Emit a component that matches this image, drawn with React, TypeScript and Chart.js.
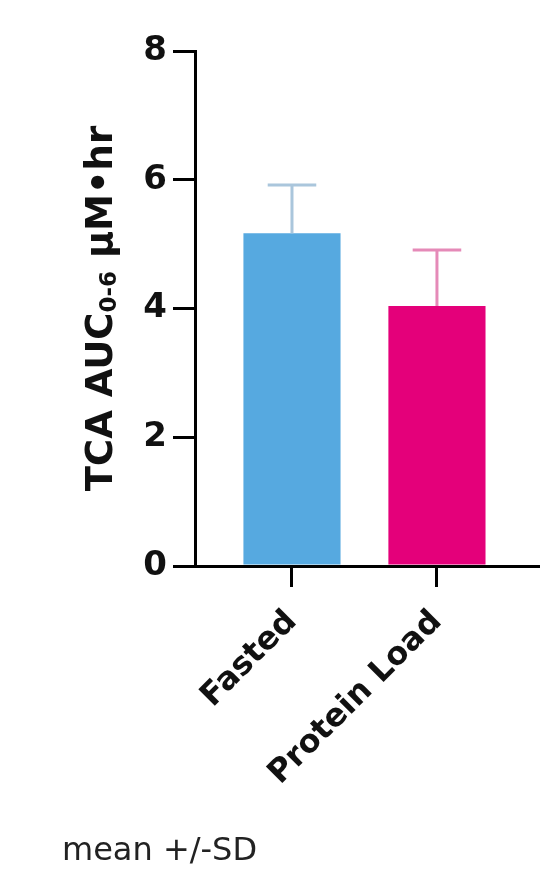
import React, { useEffect, useRef } from "react";
import { Chart, registerables } from "chart.js";
Chart.register(...registerables);

const categories = ["Fasted", "Protein Load"];
const means = [5.17, 4.04];
const sds = [0.75, 0.87];
const barColors = ["#56A9E0", "#E4007A"];
const errorColors = ["#AAC6DC", "#E58AB8"];
const yMin = 0;
const yMax = 8;
const yStep = 2;
const yTitleMain = "TCA AUC";
const yTitleSub = "0-6";
const yTitleUnit = " μM•hr";
const footnote = "mean +/-SD";

const errorBarPlugin = {
  id: "errorBars",
  afterDatasetsDraw(chart: any) {
    const meta = chart.getDatasetMeta(0);
    const yScale = chart.scales.y;
    const ctx = chart.ctx;
    ctx.save();
    meta.data.forEach((bar: any, i: number) => {
      const top = yScale.getPixelForValue(means[i] + sds[i]);
      const base = yScale.getPixelForValue(means[i]);
      const half = bar.width * 0.25;
      ctx.strokeStyle = errorColors[i];
      ctx.lineWidth = 3;
      ctx.beginPath();
      ctx.moveTo(bar.x, base);
      ctx.lineTo(bar.x, top);
      ctx.moveTo(bar.x - half, top);
      ctx.lineTo(bar.x + half, top);
      ctx.stroke();
    });
    ctx.restore();
  },
};

const textPlugin = {
  id: "texts",
  afterDraw(chart: any) {
    const ctx = chart.ctx;
    const area = chart.chartArea;
    ctx.save();
    const mainFont = "bold 37px 'DejaVu Sans'";
    const subFont = "bold 23px 'DejaVu Sans'";
    ctx.font = mainFont;
    const w1 = ctx.measureText(yTitleMain).width;
    const w3 = ctx.measureText(yTitleUnit).width;
    ctx.font = subFont;
    const w2 = ctx.measureText(yTitleSub).width;
    const W = w1 + w2 + w3;
    ctx.translate(112, (area.top + area.bottom) / 2);
    ctx.rotate(-Math.PI / 2);
    ctx.fillStyle = "#111";
    ctx.textBaseline = "alphabetic";
    ctx.textAlign = "left";
    let x = -W / 2;
    ctx.font = mainFont;
    ctx.fillText(yTitleMain, x, 0);
    x += w1;
    ctx.font = subFont;
    ctx.fillText(yTitleSub, x, 4);
    x += w2;
    ctx.font = mainFont;
    ctx.fillText(yTitleUnit, x, 0);
    ctx.restore();

    ctx.save();
    ctx.font = "32px 'DejaVu Sans'";
    ctx.fillStyle = "#222";
    ctx.textBaseline = "middle";
    ctx.textAlign = "left";
    ctx.fillText(footnote, 62, 852);
    ctx.restore();
  },
};

export default function App() {
  const ref = useRef<HTMLCanvasElement>(null);
  useEffect(() => {
    const canvas = ref.current!;
    const chart = new Chart(canvas, {
      type: "bar",
      data: {
        datasets: [
          {
            data: means.map((m, i) => ({ x: i, y: m })),
            backgroundColor: barColors,
            borderWidth: 0,
            barPercentage: 0.67,
            categoryPercentage: 1,
          } as any,
        ],
      },
      options: {
        responsive: false,
        animation: false,
        layout: { padding: { top: 51, right: 13, left: 0, bottom: 0 } },
        plugins: { legend: { display: false }, tooltip: { enabled: false } },
        scales: {
          x: {
            type: "linear",
            min: -0.669,
            max: 1.697,
            offset: false,
            afterBuildTicks: (scale: any) => {
              scale.ticks = categories.map((_, i) => ({ value: i }));
            },
            afterFit: (scale: any) => {
              scale.height = 873 - 566;
            },
            grid: {
              offset: false,
              drawOnChartArea: false,
              drawTicks: true,
              tickLength: 21,
              color: "#000",
              lineWidth: 3,
            },
            border: { color: "#000", width: 3 },
            ticks: {
              autoSkip: false,
              minRotation: 45,
              maxRotation: 45,
              padding: 16,
              color: "#111",
              font: { family: "'DejaVu Sans'", size: 32, weight: "bold" },
              callback: (v: any) => categories[v as number] ?? "",
            },
          },
          y: {
            min: yMin,
            max: yMax,
            afterFit: (scale: any) => {
              scale.width = 195;
            },
            grid: {
              drawOnChartArea: false,
              drawTicks: true,
              tickLength: 22,
              color: "#000",
              lineWidth: 3,
            },
            border: { color: "#000", width: 3 },
            ticks: {
              stepSize: yStep,
              padding: 6,
              color: "#111",
              font: { family: "'DejaVu Sans'", size: 34, weight: "bold" },
            },
          },
        },
      } as any,
      plugins: [errorBarPlugin, textPlugin],
    });
    return () => chart.destroy();
  }, []);
  return (
    <div style={{ position: "absolute", left: 0, top: 0, width: 551, height: 873, background: "#fff" }}>
      <canvas ref={ref} width={551} height={873} style={{ display: "block" }} />
    </div>
  );
}
